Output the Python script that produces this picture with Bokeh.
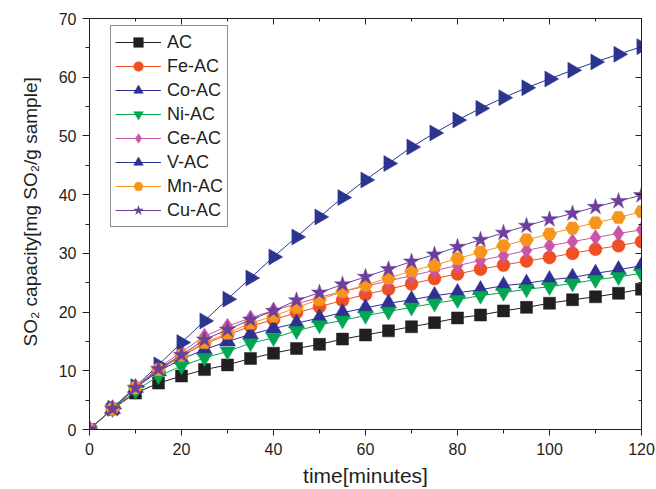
import math
from bokeh.plotting import figure
from bokeh.models import LinearAxis, SingleIntervalTicker, Range1d, CustomJSTickFormatter, Title
from bokeh.embed import file_html
from bokeh.resources import INLINE

time_min = [0, 5, 10, 15, 20, 25, 30, 35, 40, 45, 50, 55, 60, 65, 70, 75, 80, 85, 90, 95, 100, 105, 110, 115, 120]

ac = [0, 3.5, 6.2, 7.9, 9.1, 10.2, 11.0, 12.1, 13.0, 13.8, 14.5, 15.4, 16.1, 16.8, 17.5, 18.2, 19.0, 19.5, 20.2, 20.8, 21.5, 22.1, 22.6, 23.2, 23.9]
fe_ac = [0, 3.5, 7.1, 10.1, 12.5, 14.6, 16.1, 17.6, 18.7, 19.9, 20.9, 22.0, 23.0, 23.9, 24.8, 25.7, 26.5, 27.3, 28.0, 28.7, 29.3, 30.0, 30.7, 31.3, 32.0]
co_ac = [0, 3.5, 7.1, 9.9, 12.0, 13.6, 15.0, 16.2, 17.2, 18.1, 19.0, 19.9, 20.7, 21.5, 22.1, 22.8, 23.3, 23.8, 24.5, 24.9, 25.5, 25.9, 26.6, 27.2, 27.9]
ni_ac = [0, 3.5, 6.6, 9.1, 10.8, 12.2, 13.3, 14.7, 15.6, 16.8, 17.8, 18.6, 19.4, 20.1, 20.8, 21.5, 22.1, 22.8, 23.3, 23.9, 24.3, 24.9, 25.5, 26.0, 26.6]
ce_ac = [0, 3.6, 7.2, 10.5, 13.2, 15.9, 17.6, 19.0, 20.3, 21.4, 22.5, 23.5, 24.4, 25.3, 26.2, 27.1, 27.9, 28.8, 29.6, 30.5, 31.3, 32.0, 32.7, 33.4, 34.0]
v_ac = [0, 3.6, 7.3, 11.0, 14.8, 18.5, 22.2, 25.8, 29.4, 32.8, 36.2, 39.5, 42.5, 45.3, 48.1, 50.5, 52.7, 54.7, 56.5, 58.2, 59.7, 61.2, 62.6, 63.9, 65.2]
mn_ac = [0, 3.5, 7.1, 10.2, 12.6, 14.8, 16.4, 18.1, 19.3, 20.8, 22.1, 23.5, 24.6, 25.8, 27.0, 28.0, 29.1, 30.2, 31.3, 32.3, 33.3, 34.3, 35.2, 36.1, 37.1]
cu_ac = [0, 3.5, 7.1, 10.3, 12.7, 15.3, 17.0, 18.7, 20.2, 22.0, 23.3, 24.7, 26.0, 27.3, 28.6, 29.8, 31.1, 32.3, 33.5, 34.7, 35.8, 36.8, 37.9, 38.9, 39.9]

names = ["AC", "Fe-AC", "Co-AC", "Ni-AC", "Ce-AC", "V-AC", "Mn-AC", "Cu-AC"]
series = [ac, fe_ac, co_ac, ni_ac, ce_ac, v_ac, mn_ac, cu_ac]
colors = ["#231f20", "#f04e23", "#2e3192", "#00a650", "#c955a6", "#2b3590", "#f7941d", "#6d3f9c"]
markers = ["square", "circle", "triangle", "inverted_triangle", "diamond", "triangle", "hex", "star"]
sizes = [12, 13, 16, 15, 16, 16, 14, 17]
angles = [0, 0, 0, 0, 0, -math.pi / 2, 0, 0]

y_title = "SO\u2082 capacity[mg SO\u2082/g sample]"
x_title = "time[minutes]"

ink = "#231f20"
font = "Liberation Sans"

p = figure(width=656, height=489, x_range=Range1d(0, 120), y_range=Range1d(0, 70),
           output_backend="svg", toolbar_location=None,
           min_border_left=89, min_border_right=15, min_border_top=18, min_border_bottom=59)
p.grid.visible = False
p.outline_line_color = ink
p.background_fill_color = "white"

p.xaxis.ticker = SingleIntervalTicker(interval=20, num_minor_ticks=2)
p.yaxis.ticker = SingleIntervalTicker(interval=10, num_minor_ticks=2)
for ax in (p.xaxis[0], p.yaxis[0]):
    ax.axis_line_color = ink
    ax.major_tick_line_color = ink
    ax.minor_tick_line_color = ink
    ax.major_tick_in = 0
    ax.minor_tick_in = 0
    ax.major_label_text_font = font
    ax.major_label_text_font_size = "16px"
    ax.major_label_text_color = ink
    ax.axis_label_text_font = font
    ax.axis_label_text_font_style = "normal"
    ax.axis_label_text_color = ink

p.xaxis.major_tick_out = 6
p.xaxis.minor_tick_out = 4
p.xaxis.axis_label = x_title
p.xaxis.axis_label_text_font_size = "21px"
p.xaxis.major_label_standoff = 7
p.xaxis.axis_label_standoff = 6

p.yaxis.major_tick_out = 7
p.yaxis.minor_tick_out = 4
p.yaxis.major_label_standoff = 6

# y-axis title as a vertical title in the left panel
p.add_layout(Title(text=y_title, align="left", offset=83, standoff=30,
                   text_font=font, text_font_size="19px", text_font_style="normal",
                   text_color=ink), "left")

for side, interval in (("right", 10), ("above", 20)):
    ax = LinearAxis(ticker=SingleIntervalTicker(interval=interval, num_minor_ticks=2),
                    formatter=CustomJSTickFormatter(code="return ''"))
    ax.major_label_text_font_size = "1px"
    ax.major_label_standoff = 0
    ax.axis_line_color = ink
    ax.major_tick_line_color = ink
    ax.minor_tick_line_color = ink
    ax.major_tick_in = 6
    ax.major_tick_out = 0
    ax.minor_tick_in = 3
    ax.minor_tick_out = 0
    p.add_layout(ax, side)

for name, vals, c, m, s, a in zip(names, series, colors, markers, sizes, angles):
    p.line(time_min, vals, line_color=c, line_width=1, legend_label=name)
    p.scatter(time_min, vals, marker=m, size=s, angle=[a] * len(vals), fill_color=c,
              line_color=c, line_width=0.5, legend_label=name)

lg = p.legend[0]
lg.location = (21, 202)
lg.border_line_color = ink
lg.border_line_width = 1
lg.background_fill_alpha = 1
lg.label_text_font = font
lg.label_text_font_size = "18px"
lg.label_text_color = ink
lg.glyph_width = 46
lg.glyph_height = 24
lg.label_height = 24
lg.label_standoff = 6
lg.spacing = 0
lg.padding = 4
lg.margin = 0

open("out.html", "w").write(file_html(p, INLINE))
